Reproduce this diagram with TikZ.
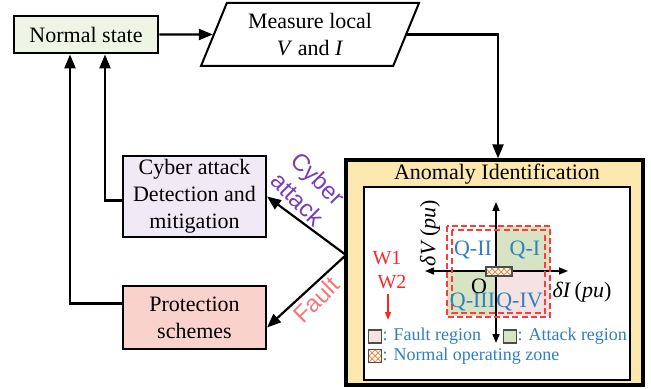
\documentclass[tikz,border=0pt]{standalone}
\usepackage{fontspec}
\setmainfont{Liberation Serif}
\newfontfamily\sansfont{Liberation Sans}
\usepackage{tikz}
\usetikzlibrary{positioning, arrows.meta, shapes.geometric, patterns, calc}
\definecolor{normfill}{HTML}{EEF5E4}
\definecolor{cyberfill}{HTML}{EFEAF6}
\definecolor{protfill}{HTML}{F9D2CC}
\definecolor{anomfill}{HTML}{FCE7AE}
\definecolor{attackfill}{HTML}{D6E4C3}
\definecolor{faultfill}{HTML}{F5E2E2}
\definecolor{qblue}{HTML}{2F7FC1}
\definecolor{cyberpurple}{HTML}{7A3DB8}
\definecolor{faultred}{HTML}{F47878}
\definecolor{wred}{HTML}{F82828}
\definecolor{hatchorange}{HTML}{F08A3C}
\tikzset{>={Triangle[length=7pt,width=5.5pt]}}
\tikzset{
    block/.style={rectangle,draw,line width=1pt,align=center,inner sep=1pt,font=\fontsize{11}{13.5}\selectfont},
    iobox/.style={trapezium,trapezium left angle=61,trapezium right angle=119,trapezium stretches body,draw,line width=1pt,align=center,minimum height=31.5pt,minimum width=109pt,inner sep=1pt,font=\fontsize{11}{13.5}\selectfont},
    flow/.style={->,line width=1.1pt},
    axis/.style={<->,>={Triangle[length=4.5pt,width=3.5pt]},line width=0.75pt},
    zone/.style={draw=wred!90,dash pattern=on 3pt off 1.6pt,line width=0.8pt},
    quad/.style={inner sep=0pt,text=qblue,font=\fontsize{11}{12}\selectfont},
    legtext/.style={inner sep=0pt,anchor=west,text=qblue,font=\fontsize{9}{10}\selectfont},
    legbox/.style={rectangle,draw=black!70,line width=0.6pt,minimum size=6.5pt,inner sep=0pt},
    hatch/.style={preaction={fill=white},pattern=crosshatch,pattern color=hatchorange},
    sidelabel/.style={inner sep=0pt,align=center,font=\sansfont\fontsize{12}{14.5}\selectfont},
}
\begin{document}
\begin{tikzpicture}[x=0.5pt,y=-0.5pt]
    \useasboundingbox (0,0) rectangle (651,389);
    % flow chart blocks
    \node[block,fill=normfill,line width=1.4pt,minimum width=72pt,minimum height=18.5pt] (norm) at (86,34.5) {Normal state};
    \node[iobox] (meas) at (310,34.5) {Measure local\\\textit{V} and \textit{I}};
    \node[block,fill=cyberfill,minimum width=71.5pt,minimum height=40.5pt] (cyber) at (194.5,196.5) {Cyber attack\\Detection and\\mitigation};
    \node[block,fill=protfill,minimum width=71.5pt,minimum height=31.5pt] (prot) at (194.5,317.5) {Protection\\schemes};
    \node[block,fill=anomfill,line width=1.6pt,minimum width=148.5pt,minimum height=112.5pt] (anom) at (494.5,272.5) {};
    \node[block,draw=none] (title) at (497,174) {Anomaly Identification};
    \node[block,fill=white,line width=1.3pt,minimum width=133pt,minimum height=96.5pt] (plane) at (497,283.5) {};
    \coordinate (split) at (346,255);

    \draw[flow] (norm) -- (meas);
    \draw[flow] (meas) -| ([xshift=1.75pt]anom.north);
    \draw[flow] (split) -- (cyber.east);
    \draw[flow] (split) -- ([yshift=-5pt]prot.east);
    \draw[flow] ([yshift=-2pt]cyber.west) -| ([xshift=9.5pt]norm.south);
    \draw[flow] ([yshift=7pt]prot.west) -| ([xshift=-8pt]norm.south);

    \node[sidelabel,text=cyberpurple,rotate=-45] (cyberlbl) at (308,189) {Cyber\\attack};
    \node[sidelabel,text=faultred,rotate=45] (faultlbl) at (316,300) {Fault};

    % quadrant plane
    \fill[attackfill] (496,226) rectangle (550,271);
    \fill[attackfill] (447,271) rectangle (496,316);
    \fill[faultfill] (496,271) rectangle (550,316);
    \coordinate (xl) at (425,271);
    \coordinate (xr) at (568,271);
    \coordinate (yb) at (496,343);
    \coordinate (yt) at (496,202);
    \draw[axis] (xl) -- (xr);
    \draw[axis] (yb) -- (yt);
    \draw[zone] (447,226) rectangle (550,317);
    \draw[zone] (452,230) rectangle (545,313);
    \node[hatch,draw=black!70,line width=0.6pt,minimum width=13pt,minimum height=4.5pt,inner sep=0pt] (nzone) at (499,271.5) {};

    \node[quad] (q2) at (473,250) {Q-II};
    \node[quad] (q1) at (525,250) {Q-I};
    \node[quad] (q3) at (472.5,302) {Q-III};
    \node[quad] (q4) at (519.5,302) {Q-IV};
    \node[quad,text=black] (orig) at (479,286) {O};
    \node[inner sep=0pt,font=\fontsize{11}{12}\selectfont] (dI) at (582,292) {\textit{δI}\,(\textit{pu})};
    \node[inner sep=0pt,rotate=90,font=\fontsize{11}{12}\selectfont] (dV) at (430,233) {\textit{δV}\,(\textit{pu})};

    \node[inner sep=0pt,text=wred,font=\fontsize{10}{12}\selectfont] (w1) at (387,258) {W1};
    \node[inner sep=0pt,text=wred,font=\fontsize{10}{12}\selectfont] (w2) at (392,282) {W2};
    \coordinate (wtop) at (388,294);
    \coordinate (wbot) at (388,320);
    \draw[->,>={Triangle[length=4pt,width=3pt]},wred,line width=0.7pt] (wtop) -- (wbot);

    % legend
    \node[legbox,fill=faultfill] (lfault) at (375,336.5) {};
    \node[legtext] at (lfault.east) {: Fault region};
    \node[legbox,fill=attackfill] (lattack) at (510,336.5) {};
    \node[legtext] at (lattack.east) {: Attack region};
    \node[legbox,hatch] (lnorm) at (375,356) {};
    \node[legtext] at (lnorm.east) {: Normal operating zone};
\end{tikzpicture}
\end{document}
